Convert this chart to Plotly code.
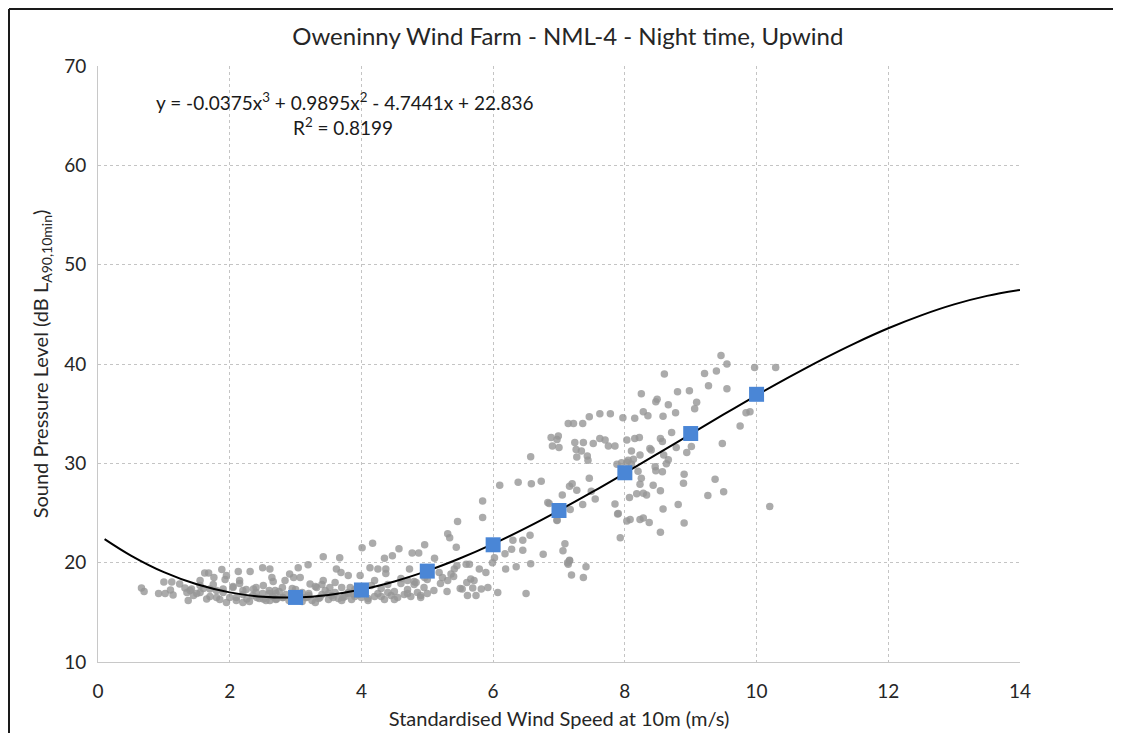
import plotly.graph_objects as go

low_x = [0.66, 0.70, 0.92, 1.00, 1.02, 1.12, 1.10, 1.14, 1.24, 1.32, 1.35, 1.40, 1.37, 1.45, 1.42,
         1.55, 1.55, 1.62, 1.68, 1.65, 1.76, 1.70, 1.80, 1.88, 1.93, 1.90, 1.95, 2.05, 2.13, 2.15,
         2.10, 2.20, 2.31, 2.26, 2.36, 2.41, 2.50, 2.51, 2.61, 2.64, 2.66, 2.69, 2.51, 2.61, 2.71,
         2.84, 2.91, 2.97, 3.04, 3.07, 2.81, 3.19, 3.22, 3.32, 3.42, 3.42, 3.37, 3.52, 3.62, 3.80,
         3.83, 3.88, 3.98, 3.17, 3.02, 3.57, 3.72]
low_y = [17.45, 17.1, 16.9, 18.05, 16.9, 18.05, 17.25, 16.75, 17.85, 17.45, 17.0, 17.2, 16.2, 16.7, 17.35,
         18.2, 17.0, 18.95, 18.95, 16.35, 18.5, 17.35, 16.5, 19.3, 18.3, 17.35, 16.0, 17.5, 19.1, 18.2,
         16.5, 17.2, 19.1, 16.35, 17.35, 16.5, 19.5, 17.7, 19.35, 18.5, 18.1, 17.2, 16.35, 16.2, 16.35,
         18.2, 18.85, 18.5, 19.5, 18.5, 16.5, 19.8, 17.85, 17.5, 20.6, 18.2, 16.5, 17.5, 19.35, 18.7,
         17.5, 16.85, 18.7, 16.5, 16.7, 16.5, 16.5]

band_x = [1.50, 1.60, 1.70, 1.75, 1.85, 1.90, 2.00, 2.05, 2.10, 2.20, 2.25, 2.30, 2.35, 2.40, 2.45,
          2.50, 2.55, 2.60, 2.65, 2.70, 2.75, 2.80, 2.85, 2.90, 2.95, 3.00, 3.05, 3.10, 3.15, 3.20,
          3.25, 3.30, 3.35, 3.40, 3.45, 3.50, 3.55, 3.60, 3.65, 3.70, 3.75, 3.80, 3.85, 3.90, 3.95,
          4.00, 4.05, 4.10, 4.15, 4.20, 4.25, 4.30, 4.35, 4.40, 4.45, 4.50, 4.55, 4.60, 4.65, 4.70,
          4.75, 4.80, 4.85, 4.90, 4.95, 5.00,
          1.55, 1.80, 2.15, 2.40, 2.60, 2.80, 3.00, 3.20, 3.40, 3.60, 3.80, 4.00, 4.20, 4.40, 4.60,
          4.80, 5.00, 5.10, 5.20, 5.30, 5.40, 5.50, 5.60, 3.10, 3.30, 3.50, 3.70, 3.90, 4.10, 4.30,
          4.50, 4.70, 4.90, 2.20, 2.70, 1.95]
band_y = [16.9, 17.4, 16.6, 17.8, 16.3, 17.0, 16.5, 17.6, 16.2, 16.8, 17.3, 16.1, 16.7, 17.5, 16.4,
          16.9, 16.2, 17.2, 16.6, 16.3, 17.1, 16.5, 16.8, 16.2, 17.4, 16.6, 16.3, 17.0, 16.5, 16.9,
          16.2, 17.6, 16.4, 16.8, 17.2, 16.3, 16.7, 17.0, 16.4, 17.5, 16.6, 16.9, 16.3, 17.3, 16.8,
          16.5, 17.1, 16.4, 17.7, 16.6, 16.9, 17.4, 16.3, 17.8, 16.7, 17.1, 16.5, 17.9, 16.8, 17.3,
          16.6, 18.1, 17.0, 16.7, 17.5, 16.9,
          17.7, 17.2, 17.9, 17.0, 16.9, 17.5, 17.3, 16.7, 17.8, 18.0, 17.0, 17.6, 18.2, 17.0, 18.4,
          17.8, 18.3, 17.2, 17.9, 17.1, 18.6, 17.4, 18.0, 16.1, 16.0, 16.9, 16.2, 16.6, 16.2, 16.6,
          16.3, 16.9, 16.5, 16.0, 16.9, 18.7]

mid_x = [3.67, 3.69, 4.01, 4.17, 4.35, 4.47, 4.57, 4.77, 4.87, 4.96, 5.11, 4.13, 4.25, 4.37, 4.37,
         4.73, 4.70, 4.83, 4.96, 5.18, 5.23, 5.31, 5.36, 5.41, 5.45, 5.44, 5.31, 5.34, 5.46, 5.59,
         5.64, 5.53, 5.66, 5.71, 5.69, 5.61, 5.74, 5.79, 5.82, 5.89, 5.92, 5.99, 6.02, 6.07, 5.84,
         5.84]
mid_y = [20.5, 19.0, 21.5, 21.95, 20.45, 20.7, 21.4, 20.97, 20.97, 21.8, 20.45, 19.5, 19.35, 19.35, 18.9,
         19.35, 18.2, 18.0, 18.5, 19.0, 18.5, 18.2, 18.85, 19.35, 19.7, 21.55, 22.9, 22.5, 24.15, 19.85,
         19.85, 17.35, 18.35, 18.2, 17.45, 16.7, 16.7, 19.35, 17.35, 19.0, 17.5, 20.0, 20.5, 17.0, 24.55,
         26.2]

up_x = [6.57, 6.88, 6.90, 6.99, 6.97, 7.00, 7.14, 7.22, 7.36, 7.46, 7.62, 7.78, 7.97, 7.24, 7.26,
        7.34, 7.27, 7.37, 7.43, 7.44, 7.52, 7.62, 7.70, 7.75, 7.85, 8.03, 8.15, 8.22, 8.15, 8.10,
        8.23, 7.88, 7.95, 8.03, 8.10, 8.05, 8.13, 8.20, 8.23, 8.18, 8.03, 8.08, 8.07, 7.90, 7.85,
        7.93, 6.10, 6.38, 6.58, 6.73, 7.05, 7.16, 7.20, 7.27, 7.46, 7.49, 7.55, 7.17, 6.85, 6.97,
        7.09, 7.06, 7.16, 7.14, 7.41, 7.19, 7.37, 6.76, 6.57, 6.56, 6.45, 6.45, 6.30, 6.28, 6.18,
        6.35, 6.19, 6.50, 6.83, 6.97, 7.36, 7.89, 7.13, 7.16]
up_y = [30.67, 32.6, 31.75, 32.75, 32.4, 31.6, 34.0, 34.0, 34.0, 34.7, 35.0, 35.0, 34.6, 32.1, 31.4,
        31.25, 30.65, 32.1, 30.75, 30.3, 32.0, 32.5, 32.35, 31.75, 31.75, 32.35, 32.5, 32.6, 34.55, 31.25,
        30.85, 29.9, 30.05, 30.1, 29.9, 30.3, 30.4, 29.2, 27.9, 26.95, 24.2, 24.35, 26.55, 24.95, 25.9,
        22.5, 27.8, 28.1, 27.95, 28.2, 26.8, 27.7, 27.95, 27.3, 28.5, 27.2, 26.4, 25.35, 25.95, 24.25,
        21.9, 21.2, 20.25, 19.85, 19.6, 18.75, 18.5, 20.85, 19.9, 22.75, 22.25, 21.25, 22.25, 21.35, 20.9,
        19.6, 19.35, 16.9, 26.05, 24.3, 25.85, 24.9, 20.0, 20.2]

high_x = [9.46, 9.55, 9.97, 10.29, 8.60, 9.21, 9.39, 9.27, 9.55, 8.80, 8.98, 9.09, 9.06, 8.47, 8.49,
          8.66, 8.77, 8.25, 8.28, 8.35, 8.58, 9.90, 9.84, 9.75, 9.48, 8.71, 8.54, 8.57, 8.38, 8.40,
          8.78, 9.01, 8.94, 8.59, 8.66, 8.63, 8.46, 8.47, 8.57, 8.90, 8.89, 8.25, 8.28, 8.33, 8.43,
          8.54, 9.37, 9.50, 9.26, 8.81, 8.58, 8.23, 8.28, 8.37, 8.90, 8.54, 10.20]
high_y = [40.85, 40.0, 39.65, 39.65, 39.0, 39.05, 39.3, 37.8, 37.5, 37.2, 37.3, 36.15, 35.5, 36.2, 36.45,
          35.9, 35.1, 37.0, 35.2, 34.8, 34.75, 35.2, 35.1, 33.75, 32.0, 33.1, 32.5, 32.2, 31.5, 31.35,
          31.6, 31.7, 31.1, 30.85, 30.35, 29.95, 29.65, 29.25, 29.15, 28.9, 28.0, 28.5, 27.0, 26.8, 27.8,
          27.25, 28.4, 27.15, 26.75, 25.85, 25.4, 24.35, 24.5, 24.05, 24.0, 23.05, 25.65]

bin_speed = [3, 4, 5, 6, 7, 8, 9, 10]
bin_level = [16.5, 17.25, 19.15, 21.8, 25.25, 29.05, 33.0, 36.95]

trend_x = [0.1, 0.5, 1, 1.5, 2, 2.5, 3, 3.5, 4, 4.5, 5, 5.5, 6, 6.5, 7, 7.5, 8, 8.5, 9, 9.5,
           10, 10.5, 11, 11.5, 12, 12.5, 13, 13.5, 14]
trend_y = [22.37, 20.71, 19.04, 17.82, 17.01, 16.57, 16.50, 16.75, 17.29, 18.11, 19.17, 20.44,
           21.89, 23.51, 25.25, 27.09, 29.01, 30.97, 32.95, 34.92, 36.85, 38.70, 40.47, 42.11,
           43.60, 44.90, 46.00, 46.86, 47.46]

x_ticks = [0, 2, 4, 6, 8, 10, 12, 14]
y_ticks = [10, 20, 30, 40, 50, 60, 70]

scatter_x = low_x + band_x + mid_x + up_x + high_x
scatter_y = low_y + band_y + mid_y + up_y + high_y

FONT = "Lato"
TXT = "#262626"
PW, PH = 922, 596  # plot area size in px

fig = go.Figure()
fig.add_trace(go.Scatter(x=scatter_x, y=scatter_y, mode="markers",
                         marker=dict(size=7.5, color="rgba(150,150,150,0.8)", line=dict(width=0)),
                         showlegend=False, hoverinfo="skip"))
fig.add_trace(go.Scatter(x=trend_x, y=trend_y, mode="lines", line=dict(color="black", width=2, shape="spline"),
                         showlegend=False))
fig.add_trace(go.Scatter(x=bin_speed, y=bin_level, mode="markers",
                         marker=dict(symbol="square", size=15, color="#4a86d6", line=dict(width=0)),
                         showlegend=False))

fig.update_layout(
    width=1113, height=725,
    margin=dict(l=90, r=101, t=58, b=71),
    paper_bgcolor="white", plot_bgcolor="white",
    font=dict(family=FONT, color=TXT),
    title=dict(text="Oweninny Wind Farm - NML-4 - Night time, Upwind", x=0.503, xanchor="center",
               y=0.961, yanchor="middle", font=dict(size=24, family=FONT, color=TXT)),
    xaxis=dict(range=[0, 14], tickvals=x_ticks, showgrid=True, gridcolor="#c4c4c4", griddash="dot",
               gridwidth=1, showline=True, linecolor="#c8c8c8", linewidth=1, zeroline=False,
               ticks="outside", ticklen=12, tickcolor="rgba(0,0,0,0)", automargin=False,
               tickfont=dict(size=19, family=FONT, color=TXT),
               title=dict(text="Standardised Wind Speed at 10m (m/s)", standoff=11,
                          font=dict(size=20, family=FONT, color=TXT))),
    yaxis=dict(range=[10, 70], tickvals=y_ticks, showgrid=True, gridcolor="#c4c4c4", griddash="dot",
               gridwidth=1, showline=True, linecolor="#c8c8c8", linewidth=1, zeroline=False,
               ticks="outside", ticklen=7, tickcolor="rgba(0,0,0,0)", automargin=False,
               tickfont=dict(size=19, family=FONT, color=TXT),
               title=dict(text="Sound Pressure Level (dB L<sub>A90,10min</sub>)", standoff=10,
                          font=dict(size=20, family=FONT, color=TXT))),
)

fig.add_annotation(xref="paper", yref="paper", x=0.268, y=0.940, xanchor="center", yanchor="middle",
                   text="y = -0.0375x<sup>3</sup> + 0.9895x<sup>2</sup> - 4.7441x + 22.836",
                   showarrow=False, font=dict(size=19, family=FONT, color="#1a1a1a"))
fig.add_annotation(xref="paper", yref="paper", x=0.266, y=0.898, xanchor="center", yanchor="middle",
                   text="R<sup>2</sup> = 0.8199",
                   showarrow=False, font=dict(size=19, family=FONT, color="#1a1a1a"))

# outer frame (top and left edges of the chart box)
fig.add_shape(type="line", xref="paper", yref="paper",
              x0=-89 / PW, x1=1 + 101 / PW, y0=1 + 57 / PH, y1=1 + 57 / PH,
              line=dict(color="#1a1a1a", width=2))
fig.add_shape(type="line", xref="paper", yref="paper",
              x0=-89 / PW, x1=-89 / PW, y0=-71 / PH, y1=1 + 57 / PH,
              line=dict(color="#1a1a1a", width=2))

fig.write_html("out.html")
